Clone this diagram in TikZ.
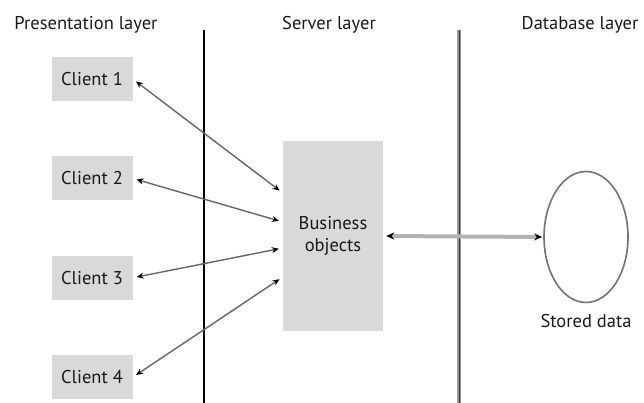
\documentclass[tikz,border=0pt]{standalone}
\usepackage{fontspec}
\setmainfont{PT Sans}
\usetikzlibrary{arrows.meta,positioning,shapes.geometric}

\begin{document}
\begin{tikzpicture}[x=1pt,y=-1pt,
    every node/.style={font=\fontsize{18.5}{22}\selectfont, text=black!90},
    client/.style={fill=black!15, minimum width=81pt, minimum height=44pt, inner sep=0pt},
    link/.style={{Stealth[black,length=7pt,width=6pt]}-{Stealth[black,length=7pt,width=6pt]}, draw=black!60, line width=1.4pt, shorten >=4pt, shorten <=4pt}]
    \useasboundingbox (0,0) rectangle (644,403);
    % Layer titles
    \node (pres) at (86,25) {Presentation layer};
    \node (serv) at (329,25) {Server layer};
    \node (dbl) at (580,25) {Database layer};
    % Layer borders
    \coordinate (b1top) at (204,30);
    \coordinate (b1bot) at (204,403);
    \coordinate (b2top) at (459,30);
    \coordinate (b2bot) at (459,403);
    \draw[line width=1.8pt] (b1top) -- (b1bot);
    \draw[black!40, line width=3.5pt] (b2top) -- (b2bot);
    \draw[black!80, line width=1pt] (b2top) -- (b2bot);
    % Clients
    \node[client] (c1) at (92,79) {Client 1};
    \node[client, below=55pt of c1] (c2) {Client 2};
    \node[client, below=55pt of c2] (c3) {Client 3};
    \node[client, below=55pt of c3] (c4) {Client 4};
    % Server
    \node[fill=black!15, minimum width=100pt, minimum height=190pt, align=center] (biz) at (333,236) {Business\\objects};
    % Database
    \node[ellipse, draw=black!55, line width=1.6pt, minimum width=84pt, minimum height=131pt, inner sep=0pt] (db) at (586,237) {};
    \node[below=7pt of db] (store) {Stored data};
    % Connections
    \draw[link] (c1.east) -- ([yshift=43pt]biz.west);
    \draw[link] (c2.east) -- ([yshift=14pt]biz.west);
    \draw[link] (c3.east) -- ([yshift=-12pt]biz.west);
    \draw[link] (c4.east) -- ([yshift=-41pt]biz.west);
    \draw[{Stealth[black,length=8pt,width=7pt]}-{Stealth[black,length=8pt,width=7pt]}, draw=black!30, line width=4pt, shorten <=3pt, shorten >=1pt] (biz.east) -- (db.west);
\end{tikzpicture}
\end{document}
